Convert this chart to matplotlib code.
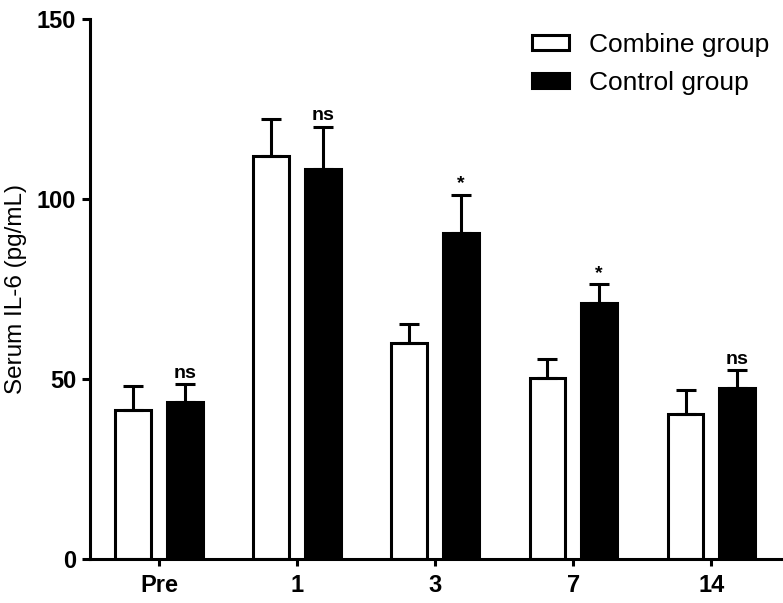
import numpy as np
import matplotlib
matplotlib.use("Agg")
import matplotlib.pyplot as plt
from matplotlib.patches import Patch


days = ["Pre", "1", "3", "7", "14"]

combine_mean = [41.2, 111.8, 59.8, 50.1, 40.1]
combine_sd = [6.7, 10.3, 5.3, 5.5, 6.7]

control_mean = [43.6, 108.2, 90.6, 71.1, 47.3]
control_sd = [4.9, 11.9, 10.6, 5.1, 5.1]

significance = ["ns", "ns", "*", "*", "ns"]

y_ticks = [0, 50, 100, 150]


def apply_plot_style():
    plt.rcParams.update({
        "font.family": ["Liberation Sans", "DejaVu Sans"],
        "axes.linewidth": 2.2,
        "xtick.major.width": 2.2,
        "ytick.major.width": 2.2,
        "xtick.major.size": 5,
        "ytick.major.size": 6,
        "xtick.labelsize": 17,
        "ytick.labelsize": 17,
    })


def plot_il6(filename):
    apply_plot_style()

    fig = plt.figure(figsize=(7.83, 6.03), dpi=100)
    ax = fig.add_axes([90 / 783, 44.5 / 603, 693 / 783, 539.5 / 603])

    x = np.arange(len(days))
    width = 0.26
    offset = 0.186

    zeros = np.zeros(len(days))

    ax.bar(
        x - offset,
        combine_mean,
        width,
        color="white",
        edgecolor="black",
        linewidth=2.2,
        yerr=[zeros, combine_sd],
        error_kw=dict(elinewidth=2.2, capsize=7, capthick=2.2, ecolor="black"),
        zorder=2,
    )

    ax.bar(
        x + offset,
        control_mean,
        width,
        color="black",
        edgecolor="black",
        linewidth=2.2,
        yerr=[zeros, control_sd],
        error_kw=dict(elinewidth=2.2, capsize=7, capthick=2.2, ecolor="black"),
        zorder=2,
    )

    for i, label in enumerate(significance):
        top = control_mean[i] + control_sd[i]
        ax.text(
            x[i] + offset,
            top + 0.6,
            label,
            ha="center",
            va="bottom",
            fontsize=14,
            fontweight="bold",
        )

    ax.set_xlim(-0.5, 4.52)
    ax.set_ylim(0, 150)

    ax.set_xticks(x)
    ax.set_xticklabels(days, fontweight="bold")
    ax.set_yticks(y_ticks)
    ax.set_yticklabels([str(v) for v in y_ticks], fontweight="bold")
    ax.tick_params(axis="x", pad=6)
    ax.tick_params(axis="y", pad=4)

    ax.spines["top"].set_visible(False)
    ax.spines["right"].set_visible(False)
    ax.spines["left"].set_bounds(0, 150)

    # label sits close to the left edge, like in the original figure
    ax.set_ylabel("Serum IL-6 (pg/mL)", fontsize=17.5)
    ax.yaxis.set_label_coords(-0.091, 0.5)

    handles = [
        Patch(facecolor="white", edgecolor="black", linewidth=2.2),
        Patch(facecolor="black", edgecolor="black", linewidth=2.2),
    ]
    fig.legend(
        handles,
        ["Combine group", "Control group"],
        loc="upper left",
        bbox_to_anchor=(532 / 783, 1 - 33 / 603),
        frameon=False,
        fontsize=19,
        borderpad=0,
        borderaxespad=0,
        handlelength=1.4,
        handleheight=0.48,
        handletextpad=0.75,
        labelspacing=0.52,
    )

    fig.savefig(filename, dpi=100)
    plt.close(fig)


if __name__ == "__main__":
    plot_il6("out.png")
